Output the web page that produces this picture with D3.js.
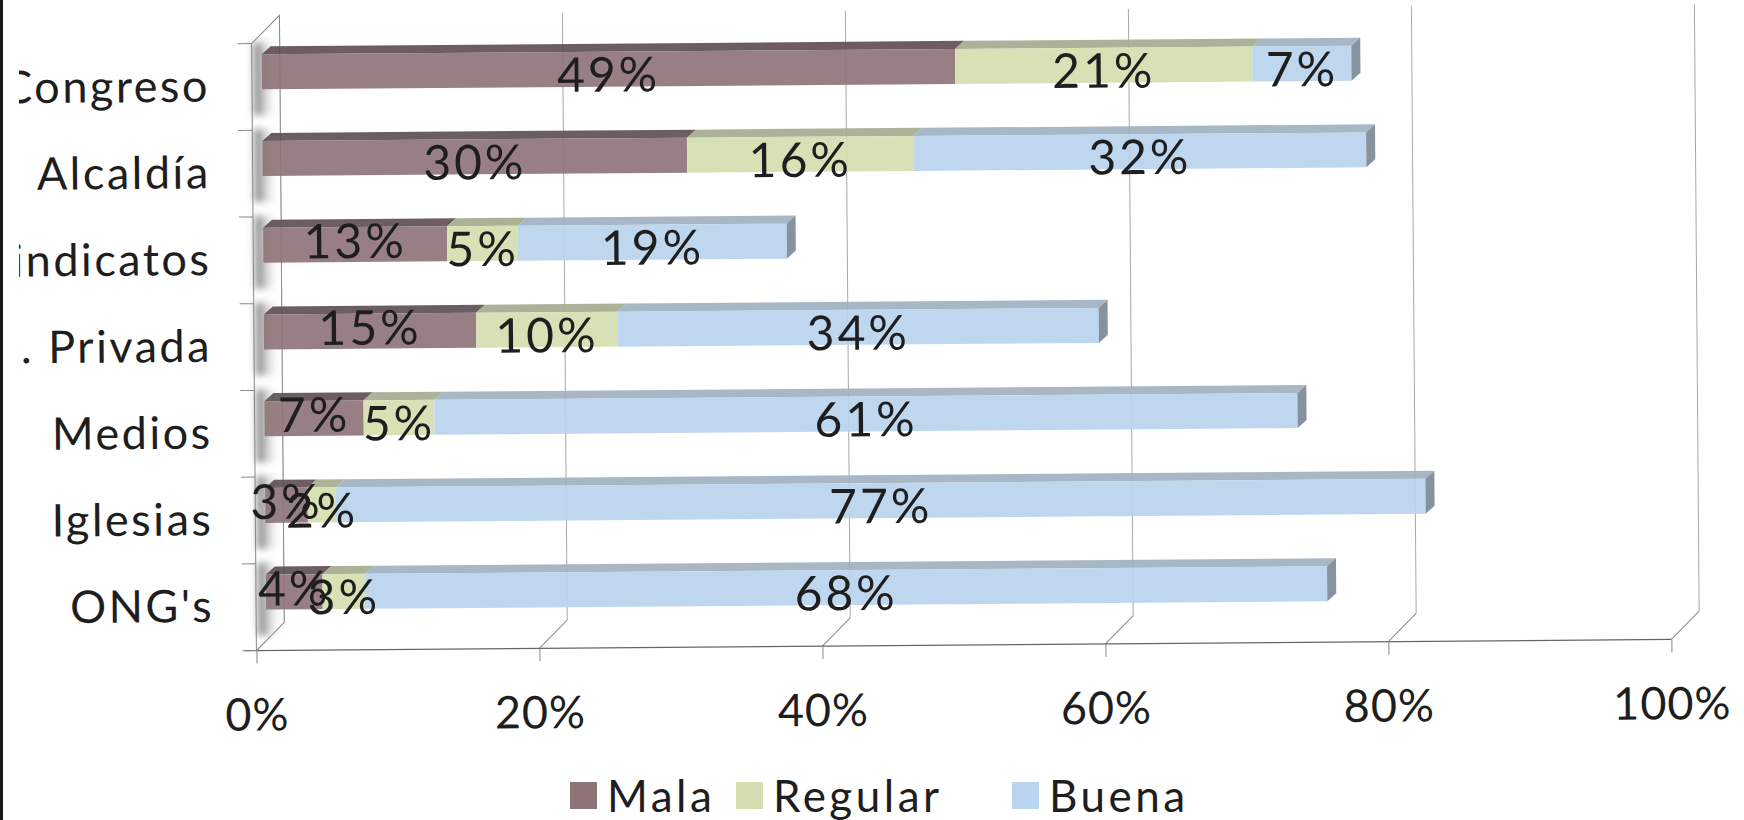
<!DOCTYPE html>
<html>
<head>
<meta charset="utf-8">
<script src="https://cdn.jsdelivr.net/npm/d3@7"></script>
<style>
  body { margin: 0; background: #fff; }
  svg { display: block; }
  text { font-family: Lato, "Open Sans", sans-serif; fill: #1e1e1e; }
</style>
</head>
<body>
<div id="chart"></div>
<script>
// data (percent)
var categories = ["Congreso", "Alcaldía", "Sindicatos", "E. Privada", "Medios", "Iglesias", "ONG's"];
var seriesNames = ["Mala", "Regular", "Buena"];
var mala    = [49, 30, 13, 15, 7, 3, 4];
var regular = [21, 16, 5, 10, 5, 2, 3];
var buena   = [7, 32, 19, 34, 61, 77, 68];
var tickValues = [0, 20, 40, 60, 80, 100];

var W = 1744, H = 820;
var depth = 28;                 // wall / floor depth (oblique projection)
var barShiftX = 10, barShiftY = 15, barH = 35, barDX = 9, barDY = 8;

var front = { Mala: "#8f7479", Regular: "#d5deb0", Buena: "#b8d4ee" };
var topc  = { Mala: "#5f4f53", Regular: "#a4ab8f", Buena: "#a0b1c1" };
var capColor = "#86939f";
var legendX = [570, 736, 1012];

var rows = categories.map(function(c, i) {
  return { cat: c, Mala: mala[i], Regular: regular[i], Buena: buena[i] };
});
var stacked = d3.stack().keys(seriesNames)(rows);

var x = d3.scaleLinear().domain([0, 100]).range([254, 1669]);
var y = d3.scaleBand().domain(categories).range([38, 645]);
var floorY = y.range()[1];

var svg = d3.select("#chart").append("svg")
    .attr("width", W)
    .attr("height", H);

var defs = svg.append("defs");
defs.append("filter").attr("id", "soft")
    .attr("x", "-50%").attr("y", "-50%").attr("width", "200%").attr("height", "200%")
  .append("feGaussianBlur").attr("stdDeviation", 3.5);
var grad = defs.append("linearGradient").attr("id", "shade");
grad.append("stop").attr("offset", "0%").attr("stop-color", "#6a6a6a");
grad.append("stop").attr("offset", "100%").attr("stop-color", "#ffffff").attr("stop-opacity", 0);

// the scan is slightly tilted
var g = svg.append("g").attr("transform", "rotate(-0.45, 960, 340)");

// back wall gridlines
g.selectAll(".grid").data(tickValues).enter().append("line")
    .attr("x1", function(d) { return x(d) + depth; })
    .attr("x2", function(d) { return x(d) + depth; })
    .attr("y1", floorY - depth)
    .attr("y2", 10)
    .attr("stroke", "#a8a8a8")
    .attr("stroke-width", 1);

// floor diagonals
g.selectAll(".diag").data(tickValues).enter().append("line")
    .attr("x1", function(d) { return x(d); })
    .attr("x2", function(d) { return x(d) + depth; })
    .attr("y1", floorY)
    .attr("y2", floorY - depth)
    .attr("stroke", "#8a8a8a");

// floor front edge
g.append("line")
    .attr("x1", x(0) - 12).attr("x2", x(100))
    .attr("y1", floorY).attr("y2", floorY)
    .attr("stroke", "#666").attr("stroke-width", 1.3);

// bottom axis
var xAxis = d3.axisBottom(x)
    .tickValues(tickValues)
    .tickFormat(function(d) { return d + "%"; })
    .tickSize(13)
    .tickPadding(35);
var ax = g.append("g").attr("transform", "translate(0," + floorY + ")").call(xAxis);
ax.select(".domain").remove();
ax.selectAll("line").attr("stroke", "#888");
ax.selectAll("text").style("font-size", "45px").style("letter-spacing", "1px").attr("fill", "#1e1e1e");

// left wall
g.append("path")
    .attr("d", "M" + x(0) + "," + y.range()[0] + "L" + (x(0) + depth) + "," + (y.range()[0] - depth) +
               "L" + (x(0) + depth) + "," + (floorY - depth) + "L" + x(0) + "," + floorY + "Z")
    .attr("fill", "#fff")
    .attr("stroke", "#8a8a8a");

// shading on the wall beside each bar
g.selectAll(".wallshade").data(categories).enter().append("rect")
    .attr("x", x(0) + 2)
    .attr("y", function(d) { return y(d) + y.bandwidth() / 2 - barShiftY - barH / 2 - 12; })
    .attr("width", depth - 4)
    .attr("height", barH + 38)
    .attr("fill", "url(#shade)")
    .attr("filter", "url(#soft)");

// category ticks at band edges
var edges = categories.map(function(c) { return y(c); }).concat([floorY]);
g.selectAll(".ctick").data(edges).enter().append("line")
    .attr("x1", x(0) - 14).attr("x2", x(0))
    .attr("y1", function(d) { return d; })
    .attr("y2", function(d) { return d; })
    .attr("stroke", "#888");

// category labels
var yAxis = d3.axisLeft(y).tickSize(0).tickPadding(42);
var ay = g.append("g").attr("transform", "translate(" + x(0) + ",0)").call(yAxis);
ay.select(".domain").remove();
ay.selectAll("text").style("font-size", "45px").style("letter-spacing", "2.5px").attr("fill", "#1e1e1e");

// bars
function frontTop(cat) { return y(cat) + y.bandwidth() / 2 - barShiftY - barH / 2; }

var layer = g.selectAll(".layer").data(stacked).enter().append("g").attr("class", "layer");

layer.selectAll(".topface").data(function(s) { return s.map(function(d) { return { key: s.key, d: d }; }); })
  .enter().append("path")
    .attr("d", function(o) {
      var x0 = x(o.d[0]) + barShiftX, x1 = x(o.d[1]) + barShiftX, t = frontTop(o.d.data.cat);
      return "M" + x0 + "," + t + "L" + x1 + "," + t + "L" + (x1 + barDX) + "," + (t - barDY) +
             "L" + (x0 + barDX) + "," + (t - barDY) + "Z";
    })
    .attr("fill", function(o) { return topc[o.key]; })
    .attr("opacity", 0.92);

layer.selectAll(".frontface").data(function(s) { return s.map(function(d) { return { key: s.key, d: d }; }); })
  .enter().append("rect")
    .attr("x", function(o) { return x(o.d[0]) + barShiftX; })
    .attr("y", function(o) { return frontTop(o.d.data.cat); })
    .attr("width", function(o) { return x(o.d[1]) - x(o.d[0]); })
    .attr("height", barH)
    .attr("fill", function(o) { return front[o.key]; })
    .attr("opacity", 0.92);

// end caps on the last segment
var last = stacked[stacked.length - 1];
g.selectAll(".cap").data(last).enter().append("path")
    .attr("d", function(d) {
      var xe = x(d[1]) + barShiftX, t = frontTop(d.data.cat);
      return "M" + xe + "," + t + "L" + (xe + barDX) + "," + (t - barDY) + "L" + (xe + barDX) + "," + (t + barH - barDY) +
             "L" + xe + "," + (t + barH) + "Z";
    })
    .attr("fill", capColor);

// data labels; narrow first segments get their label lifted a little
stacked.forEach(function(s, si) {
  g.selectAll(".lbl-" + s.key).data(s).enter().append("text")
      .attr("x", function(d) { return (x(d[0]) + x(d[1])) / 2 + barShiftX; })
      .attr("y", function(d) {
        var lift = (si === 0 && d[1] - d[0] < 20) ? -9 : 0;
        return frontTop(d.data.cat) + barH / 2 + 4 + lift;
      })
      .attr("text-anchor", "middle")
      .attr("dominant-baseline", "central")
      .style("font-size", "48px")
      .style("letter-spacing", "3px")
      .text(function(d) { return (d[1] - d[0]) + "%"; });
});

// legend
var legend = svg.append("g").attr("transform", "translate(0,795)");
seriesNames.forEach(function(name, i) {
  legend.append("rect")
      .attr("x", legendX[i]).attr("y", -13)
      .attr("width", 27).attr("height", 27)
      .attr("fill", front[name]);
  legend.append("text")
      .attr("x", legendX[i] + 37).attr("y", 0)
      .attr("dominant-baseline", "central")
      .style("font-size", "44px")
      .style("letter-spacing", "3.5px")
      .text(name);
});

// cropped left edge of the scan
svg.append("rect").attr("x", 0).attr("y", 0).attr("width", 19).attr("height", H).attr("fill", "#fff");
svg.append("rect").attr("x", 0).attr("y", 0).attr("width", 3).attr("height", H).attr("fill", "#1a1a1a");
</script>
</body>
</html>
